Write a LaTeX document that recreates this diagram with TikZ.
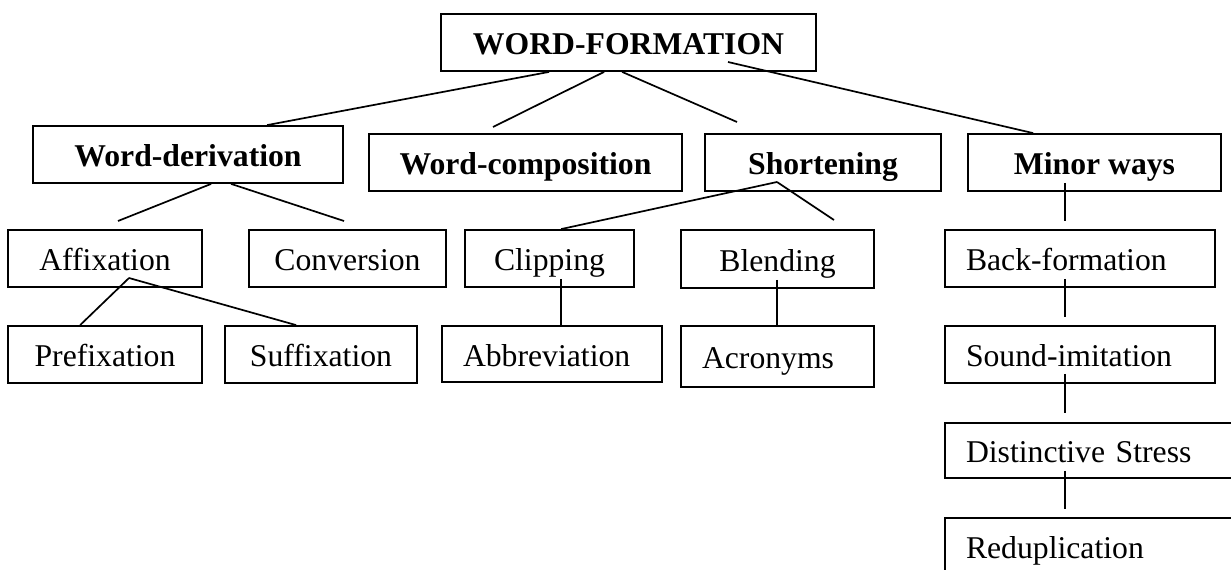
\documentclass[tikz,border=0pt]{standalone}
\usepackage{fontspec}
\setmainfont{Liberation Serif}
\begin{document}
\begin{tikzpicture}[x=1pt,y=-1pt,
  box/.style={draw, line width=1.8pt, inner sep=0pt, minimum height=57pt,
    text height=27pt, text depth=3pt, font=\fontsize{31.7}{36}\selectfont},
  head/.style={box, font=\fontsize{31.7}{36}\selectfont\bfseries},
  lbox/.style={box, text width=#1, align=left},
  link/.style={line width=1.7pt}]
\useasboundingbox (0,0) rectangle (1231,570);
\clip (0,0) rectangle (1231,570);

% top level
\node[head, minimum width=375pt] (wf) at (628.5,42.5) {WORD-FORMATION};

% second row
\node[head, minimum width=310pt] (wd) at (188,154.5) {Word-derivation};
\node[head, minimum width=313pt] (wc) at (525.5,162.5) {Word-composition};
\node[head, minimum width=236pt] (sh) at (823,162.5) {Shortening};
\node[head, minimum width=253pt] (mw) at (1094.5,162.5) {Minor ways};

% third row
\node[box, minimum width=194pt] (af) at (105,258.5) {Affixation};
\node[box, minimum width=197pt] (cv) at (347.5,258.5) {Conversion};
\node[box, minimum width=169pt] (cl) at (549.5,258.5) {Clipping};
\node[box, minimum width=193pt, minimum height=58pt] (bl) at (777.5,259) {Blending};
\node[lbox=228pt, minimum width=270pt] (bf) at (1080,258.5) {Back-formation};

% fourth row
\node[box, minimum width=194pt] (pf) at (105,354.5) {Prefixation};
\node[box, minimum width=192pt] (sf) at (321,354.5) {Suffixation};
\node[lbox=178pt, minimum width=220pt, minimum height=56pt] (ab) at (552,354) {Abbreviation};
\node[lbox=151pt, minimum width=193pt, minimum height=61pt] (ac) at (777.5,356.5) {Acronyms};
\node[lbox=228pt, minimum width=270pt] (si) at (1080,354.5) {Sound-imitation};

% minor ways column, running past the right and bottom edges
\node[lbox=263pt, minimum width=305pt, minimum height=55pt] (ds) at (1097.5,450.5) {Distinctive Stress};
\node[lbox=263pt, minimum width=305pt] (rd) at (1097.5,546.5) {Reduplication};

% free ends of the short strokes
\coordinate (wc-end) at (493,127);
\coordinate (sh-end) at (737,122);
\coordinate (wd-l) at (118,221);
\coordinate (wd-r) at (344,221);
\coordinate (af-apex) at (129,278);
\coordinate (sh-apex) at (777,182);
\coordinate (bl-end) at (834,220);
\coordinate (wf-in) at (728,62);
\coordinate (mw-end) at (1065,221);

% connectors from the top box
\draw[link] ([xshift=109pt]wf.south west) -- ([xshift=235pt]wd.north west);
\draw[link] ([xshift=164pt]wf.south west) -- (wc-end);
\draw[link] ([xshift=182pt]wf.south west) -- (sh-end);
\draw[link] (wf-in) -- ([xshift=66pt]mw.north west);

% word-derivation
\draw[link] ([xshift=179pt]wd.south west) -- (wd-l);
\draw[link] ([xshift=199pt]wd.south west) -- (wd-r);

% affixation
\draw[link] (af-apex) -- ([xshift=73pt]pf.north west);
\draw[link] (af-apex) -- ([xshift=72pt]sf.north west);

% shortening
\draw[link] (sh-apex) -- ([xshift=97pt]cl.north west);
\draw[link] (sh-apex) -- (bl-end);
\draw[link] ([yshift=9pt]cl.south) ++(11.5pt,0) -- ([xshift=11.5pt]cl.south |- ab.north);
\draw[link] (bl.south) ++(-0.5pt,9pt) -- ([xshift=-0.5pt]bl.south |- ac.north);

% minor ways column
\draw[link] (mw.south) ++(-29.5pt,9pt) -- (mw-end);
\draw[link] (bf.south) ++(-15pt,9pt) -- ++(0,-38pt);
\draw[link] (si.south) ++(-15pt,10pt) -- ++(0,-39pt);
\draw[link] (ds.south) ++(-32.5pt,8pt) -- ++(0,-38pt);
\end{tikzpicture}
\end{document}
